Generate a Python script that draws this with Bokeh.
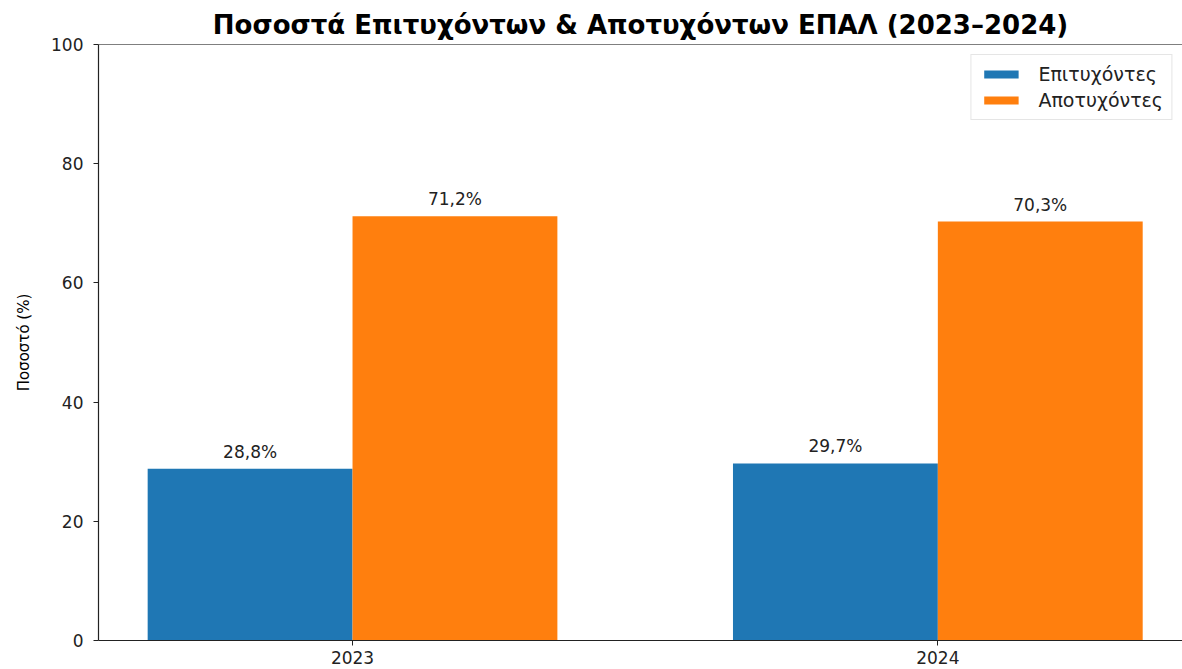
from bokeh.plotting import figure
from bokeh.models import ColumnDataSource, Range1d, FixedTicker, Span, Legend, LegendItem
from bokeh.embed import file_html
from bokeh.resources import INLINE

years = ["2023", "2024"]
success = [28.8, 29.7]
fail = [71.2, 70.3]
series_names = ["Επιτυχόντες", "Αποτυχόντες"]
colors = ["#1f77b4", "#ff7f0e"]
title = "Ποσοστά Επιτυχόντων & Αποτυχόντων ΕΠΑΛ (2023–2024)"
y_label = "Ποσοστό (%)"
y_ticks = [0, 20, 40, 60, 80, 100]

bw = 0.35
pos = list(range(len(years)))

def fmt(v):
    return f"{v:.1f}".replace(".", ",") + "%"

src_s = ColumnDataSource(dict(x=[p - bw / 2 for p in pos], top=success, lab=[fmt(v) for v in success]))
src_f = ColumnDataSource(dict(x=[p + bw / 2 for p in pos], top=fail, lab=[fmt(v) for v in fail]))

p = figure(width=1182, height=669, output_backend="svg", toolbar_location=None,
           x_range=Range1d(-0.434, 1.418), y_range=Range1d(0, 100),
           min_border_left=98, min_border_right=0, min_border_top=44, min_border_bottom=29)

p.title.text = title
p.title.align = "center"
p.title.text_font = "DejaVu Sans"
p.title.text_font_size = "26px"
p.title.text_font_style = "bold"
p.title.text_color = "black"
p.title.offset = 5

r1 = p.vbar(x="x", top="top", width=bw, source=src_s, fill_color=colors[0], line_color=None)
r2 = p.vbar(x="x", top="top", width=bw, source=src_f, fill_color=colors[1], line_color=None)

for src in (src_s, src_f):
    p.text(x="x", y="top", text="lab", source=src, text_align="center", text_baseline="bottom",
           y_offset=-7, text_font_size="17px", text_color="#222222",
           text_font={"value": "DejaVu Sans"})

p.xgrid.visible = False
p.ygrid.visible = False
p.outline_line_color = None
p.add_layout(Span(location=100, dimension="width", line_color="black", line_width=1.2))

p.xaxis.ticker = FixedTicker(ticks=pos)
p.xaxis.major_label_overrides = {i: y for i, y in enumerate(years)}
p.yaxis.ticker = FixedTicker(ticks=y_ticks)
p.yaxis.axis_label = y_label
p.yaxis.axis_label_text_font_style = "normal"
p.yaxis.axis_label_text_font = "DejaVu Sans"
p.yaxis.axis_label_text_font_size = "15px"
p.yaxis.axis_label_text_color = "black"
p.yaxis.axis_label_standoff = 15
for ax in (p.xaxis, p.yaxis):
    ax.minor_tick_line_color = None
    ax.major_tick_out = 5
    ax.major_tick_in = 0
    ax.axis_line_color = "#222222"
    ax.axis_line_width = 1.2
    ax.major_tick_line_color = "#222222"
    ax.major_label_text_font = "DejaVu Sans"
    ax.major_label_text_font_size = "17px"
    ax.major_label_text_color = "#222222"
p.yaxis.major_label_standoff = 10
p.xaxis.major_label_standoff = 5

legend = Legend(items=[LegendItem(label=series_names[0], renderers=[r1]),
                       LegendItem(label=series_names[1], renderers=[r2])],
                location="top_right", margin=10, padding=8, spacing=4,
                glyph_width=43, glyph_height=10, label_height=20, label_standoff=16,
                label_text_font="DejaVu Sans", label_text_font_size="19px", label_text_color="#222222",
                border_line_color="#cccccc", background_fill_alpha=0.8)
p.add_layout(legend)

open("out.html", "w").write(file_html(p, INLINE))
